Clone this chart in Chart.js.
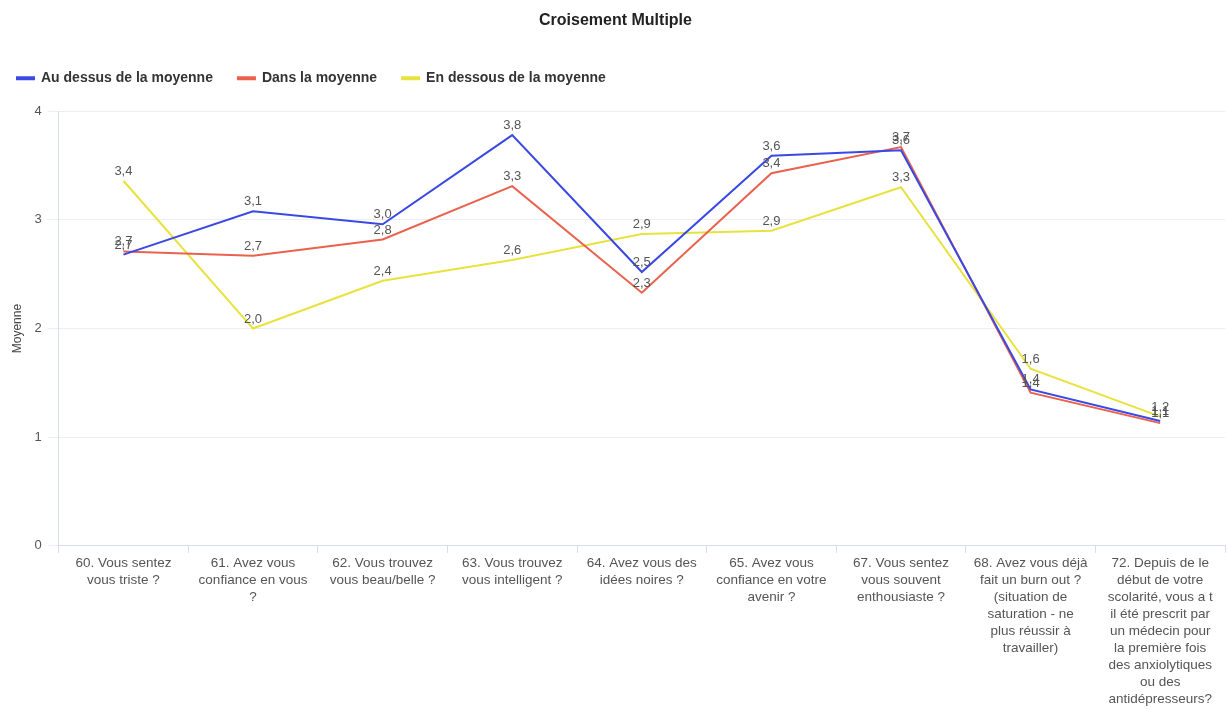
<!DOCTYPE html>
<html>
<head>
<meta charset="utf-8">
<script src="https://cdn.jsdelivr.net/npm/chart.js@4.4.0/dist/chart.umd.min.js"></script>
<style>
  body { margin: 0; background: #fff; }
  #wrap { width: 1227px; height: 709px; }
</style>
</head>
<body>
<div id="wrap"><canvas id="croisement" width="1227" height="709"></canvas></div>
<script>
const categories = [
    ['60. Vous sentez', 'vous triste ?'],
    ['61. Avez vous', 'confiance en vous', '?'],
    ['62. Vous trouvez', 'vous beau/belle ?'],
    ['63. Vous trouvez', 'vous intelligent ?'],
    ['64. Avez vous des', 'idées noires ?'],
    ['65. Avez vous', 'confiance en votre', 'avenir ?'],
    ['67. Vous sentez', 'vous souvent', 'enthousiaste ?'],
    ['68. Avez vous déjà', 'fait un burn out ?', '(situation de', 'saturation - ne', 'plus réussir à', 'travailler)'],
    ['72. Depuis de le', 'début de votre', 'scolarité, vous a t', 'il été prescrit par', 'un médecin pour', 'la première fois', 'des anxiolytiques', 'ou des', 'antidépresseurs?']
];
const auDessus = [2.68, 3.08, 2.96, 3.78, 2.52, 3.59, 3.64, 1.44, 1.15];
const dansMoyenne = [2.71, 2.67, 2.82, 3.31, 2.33, 3.43, 3.67, 1.41, 1.13];
const enDessous = [3.36, 2.00, 2.44, 2.63, 2.87, 2.90, 3.30, 1.63, 1.19];
const yTicks = [0, 1, 2, 3, 4];

const FONT = '"Liberation Sans", Arial, sans-serif';

// étiquettes de valeur au-dessus des points
const valueLabels = {
    id: 'valueLabels',
    afterDatasetsDraw(chart) {
        const c = chart.ctx;
        c.save();
        c.font = '13px ' + FONT;
        c.fillStyle = '#555';
        c.textAlign = 'center';
        c.textBaseline = 'bottom';
        chart.data.datasets.forEach((ds, i) => {
            chart.getDatasetMeta(i).data.forEach((pt, j) => {
                c.fillText(ds.data[j].toFixed(1).replace('.', ','), pt.x, pt.y - 3);
            });
        });
        c.restore();
    }
};

// espace sous la légende + décalage à gauche
const legendGap = {
    id: 'legendGap',
    beforeInit(chart) {
        const fitOrig = chart.legend.fit;
        chart.legend.fit = function () {
            fitOrig.bind(chart.legend)();
            this.height += 16;
        };
    },
    afterLayout(chart) {
        chart.legend.left -= 14;
    }
};

const ctx = document.getElementById('croisement').getContext('2d');
const chartCroisement = new Chart(ctx, {
    type: 'line',
    data: {
        labels: categories,
        datasets: [{
            label: 'Au dessus de la moyenne',
            data: auDessus,
            borderColor: 'rgb(58, 72, 228)',
            backgroundColor: 'rgb(58, 72, 228)',
            borderWidth: 2
        }, {
            label: 'Dans la moyenne',
            data: dansMoyenne,
            borderColor: 'rgb(234, 98, 78)',
            backgroundColor: 'rgb(234, 98, 78)',
            borderWidth: 2
        }, {
            label: 'En dessous de la moyenne',
            data: enDessous,
            borderColor: 'rgb(232, 226, 62)',
            backgroundColor: 'rgb(232, 226, 62)',
            borderWidth: 2
        }]
    },
    options: {
        responsive: false,
        animation: false,
        elements: { point: { radius: 0 }, line: { tension: 0 } },
        layout: { padding: { left: 6, right: 2, top: 0, bottom: 0 } },
        plugins: {
            title: {
                display: true,
                text: 'Croisement Multiple',
                color: '#222',
                font: { family: FONT, size: 16, weight: 'bold' },
                padding: { top: 11, bottom: 16 }
            },
            legend: {
                align: 'start',
                labels: {
                    boxWidth: 17,
                    boxHeight: 2,
                    color: '#333',
                    font: { family: FONT, size: 14, weight: 'bold' },
                    padding: 25
                }
            },
            tooltip: { enabled: false }
        },
        scales: {
            x: {
                offset: true,
                grid: { drawOnChartArea: false, drawTicks: true, tickLength: 7, color: '#d6def0', offset: true },
                border: { color: '#d6def0' },
                ticks: {
                    padding: 1.5,
                    maxRotation: 0,
                    autoSkip: false,
                    color: '#555',
                    font: { family: FONT, size: 13.5, lineHeight: 1.26 }
                }
            },
            y: {
                min: 0,
                max: 4,
                afterBuildTicks(scale) { scale.ticks = yTicks.map(v => ({ value: v })); },
                title: {
                    display: true,
                    text: 'Moyenne',
                    color: '#444',
                    font: { family: FONT, size: 12 }
                },
                grid: { color: '#eceef4', tickLength: 11 },
                border: { color: '#d6def0' },
                ticks: {
                    padding: 6,
                    color: '#555',
                    font: { family: FONT, size: 13 }
                }
            }
        }
    },
    plugins: [valueLabels, legendGap]
});
</script>
</body>
</html>
